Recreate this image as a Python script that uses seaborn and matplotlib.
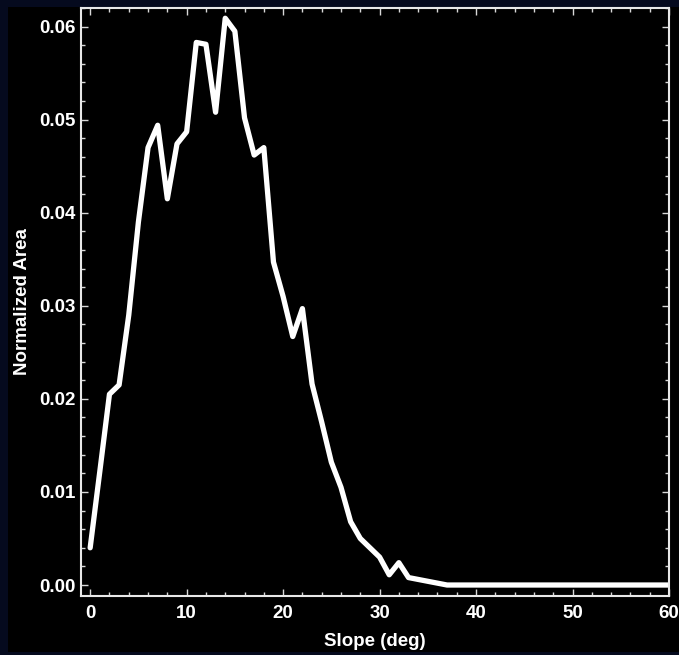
import matplotlib
matplotlib.use("Agg")
import matplotlib.pyplot as plt
import matplotlib.patches as mpatches
from matplotlib.ticker import MultipleLocator, FormatStrFormatter
import numpy as np
import pandas as pd
import seaborn as sns

slope_deg = list(range(0, 61))
normalized_area = [
    0.0040, 0.0122, 0.0205, 0.0215, 0.0290, 0.0390, 0.0470, 0.0494, 0.0415, 0.0474,
    0.0487, 0.0583, 0.0581, 0.0508, 0.0609, 0.0595, 0.0502, 0.0462, 0.0470, 0.0347,
    0.0310, 0.0267, 0.0297, 0.0216, 0.0175, 0.0132, 0.0105, 0.0068, 0.0050, 0.0040,
    0.0030, 0.0011, 0.0024, 0.0008, 0.0006, 0.0004, 0.0002, 0.0000, 0.0000, 0.0000,
    0.0000, 0.0000, 0.0000, 0.0000, 0.0000, 0.0000, 0.0000, 0.0000, 0.0000, 0.0000,
    0.0000, 0.0000, 0.0000, 0.0000, 0.0000, 0.0000, 0.0000, 0.0000, 0.0000, 0.0000,
    0.0000,
]
x_label = "Slope (deg)"
y_label = "Normalized Area"

df = pd.DataFrame({"slope": slope_deg, "area": normalized_area})

sns.set_theme(style="dark")
plt.rcParams["font.family"] = ["Liberation Sans", "DejaVu Sans"]
plt.rcParams["font.weight"] = "bold"

W, H = 679, 655
fig = plt.figure(figsize=(W / 100, H / 100), dpi=100)
fig.patch.set_facecolor("#050a1e")
# black panel from x=8 to right edge, y=7 to y=652 (pixels from top)
panel = mpatches.Rectangle((8 / W, (H - 652) / H), 1, (652 - 7) / H,
                           transform=fig.transFigure, facecolor="black",
                           edgecolor="none", zorder=-10)
fig.add_artist(panel)

ax = fig.add_axes([81 / W, (H - 596) / H, (669 - 81) / W, (596 - 8) / H])
ax.set_zorder(1)
ax.set_facecolor("black")

sns.lineplot(data=df, x="slope", y="area", ax=ax, color="white", linewidth=3.8)

ax.set_xlim(-0.95, 60)
ax.set_ylim(-0.00118, 0.0620)
ax.xaxis.set_major_locator(MultipleLocator(10))
ax.xaxis.set_minor_locator(MultipleLocator(2))
ax.yaxis.set_major_locator(MultipleLocator(0.01))
ax.yaxis.set_minor_locator(MultipleLocator(0.002))
ax.yaxis.set_major_formatter(FormatStrFormatter("%.2f"))
ax.grid(False)

tc = "#d8d8d8"
ax.tick_params(which="both", direction="in", top=True, right=True, bottom=True, left=True,
               colors=tc, labelcolor="white", labelsize=13.5)
ax.tick_params(which="major", length=5, width=1)
ax.tick_params(which="minor", length=3, width=1)
ax.tick_params(axis="x", pad=6.5)
ax.tick_params(axis="y", pad=4)
for lab in ax.get_xticklabels() + ax.get_yticklabels():
    lab.set_fontweight("bold")
for s in ax.spines.values():
    s.set_visible(True)
    s.set_color("#e8e8e8")
    s.set_linewidth(1.5)

ax.set_xlabel(x_label, color="white", fontsize=13.5, fontweight="bold", labelpad=8)
ax.set_ylabel(y_label, color="white", fontsize=13.5, fontweight="bold", labelpad=6)

fig.savefig("out.png", dpi=100, facecolor=fig.get_facecolor())
